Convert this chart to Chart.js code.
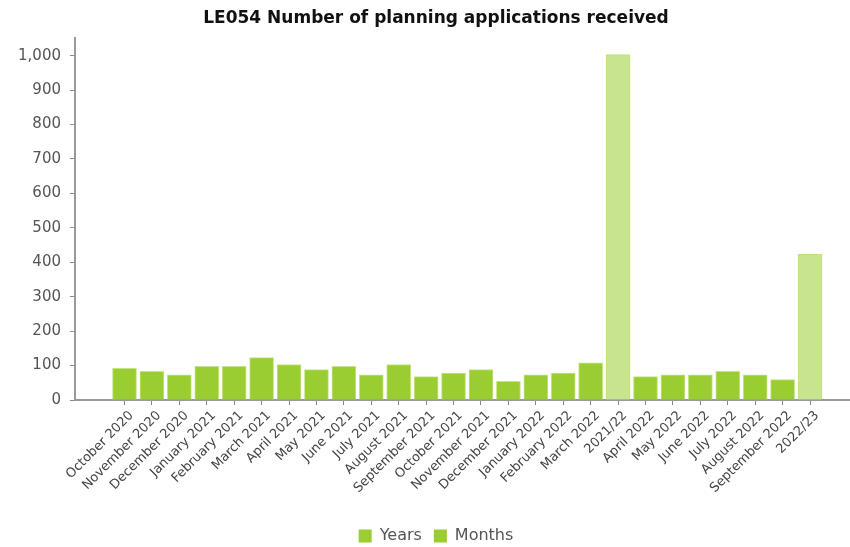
<!DOCTYPE html>
<html>
<head>
<meta charset="utf-8">
<script src="https://cdn.jsdelivr.net/npm/chart.js@4"></script>
<style>
  html, body { margin: 0; padding: 0; background: #fff; overflow: hidden; }
  #wrap { width: 872px; height: 547px; }
</style>
</head>
<body>
<div id="wrap"><canvas id="chart_le054"></canvas></div>
<script>
// categories along the x axis
var labels = [
  "October 2020", "November 2020", "December 2020", "January 2021", "February 2021",
  "March 2021", "April 2021", "May 2021", "June 2021", "July 2021", "August 2021",
  "September 2021", "October 2021", "November 2021", "December 2021", "January 2022",
  "February 2022", "March 2022", "2021/22", "April 2022", "May 2022", "June 2022",
  "July 2022", "August 2022", "September 2022", "2022/23"
];
// monthly counts (null where the category is a year)
var months = [
  92, 83, 73, 98, 98, 123, 103, 88, 98, 73, 103, 68, 78, 88, 54, 73, 78, 108,
  null, 68, 73, 73, 83, 73, 59, null
];
// yearly totals
var years = [
  null, null, null, null, null, null, null, null, null, null, null, null, null,
  null, null, null, null, null, 1003, null, null, null, null, null, null, 423
];
var yTicks = [0, 100, 200, 300, 400, 500, 600, 700, 800, 900, 1000];

var color_month = "#9acd32";
var color_year = "#c9e48f";
var font_fam = "'DejaVu Sans', Verdana, sans-serif";

function toPoints(arr) {
  return arr.map((v, i) => ({ x: i, y: v }));
}

const ctx = document.getElementById("chart_le054").getContext("2d");

const chart = new Chart(ctx, {
  type: "bar",
  data: {
    datasets: [
      {
        label: "Years",
        data: toPoints(years),
        backgroundColor: color_year,
        borderColor: "#bfdf7c",
        borderWidth: 1,
        barThickness: 24,
      },
      {
        label: "Months",
        data: toPoints(months),
        backgroundColor: color_month,
        borderColor: "#c4e585",
        borderWidth: 1,
        barThickness: 24,
      },
    ],
  },
  options: {
    responsive: true,
    maintainAspectRatio: false,
    animation: false,
    layout: { padding: { left: 0, right: 0, top: 4, bottom: -7 } },
    plugins: {
      title: {
        display: true,
        text: "LE054 Number of planning applications received",
        color: "#111",
        font: { family: font_fam, size: 17, weight: "bold" },
        padding: { top: 4, bottom: 10 },
      },
      legend: {
        position: "bottom",
        labels: {
          boxWidth: 13,
          boxHeight: 13,
          color: "#555",
          font: { family: font_fam, size: 16 },
          padding: 12,
          generateLabels: function (c) {
            var items = Chart.defaults.plugins.legend.labels.generateLabels(c);
            items.forEach((it) => {
              it.fillStyle = color_month;
              it.strokeStyle = color_month;
              it.lineWidth = 0;
            });
            return items;
          },
        },
      },
      tooltip: { enabled: false },
    },
    scales: {
      x: {
        type: "linear",
        stacked: true,
        offset: false,
        min: -1.805,
        max: 27.26,
        afterBuildTicks: function (s) {
          s.ticks = labels.map((_, i) => ({ value: i }));
        },
        afterFit: function (s) {
          s.paddingLeft = 0;
          s.paddingRight = 0;
          s.height = 116;
        },
        ticks: {
          autoSkip: false,
          minRotation: 45,
          maxRotation: 45,
          color: "#444",
          padding: 3,
          labelOffset: 7,
          font: { family: font_fam, size: 13 },
          callback: function (value) {
            return labels[value];
          },
        },
        grid: {
          offset: false,
          drawOnChartArea: false,
          drawTicks: true,
          tickLength: 5,
          color: "#888",
        },
        border: { display: true, color: "#999", width: 2 },
      },
      y: {
        min: 0,
        max: 1050,
        afterBuildTicks: function (s) {
          s.ticks = yTicks.map((v) => ({ value: v }));
        },
        afterFit: function (s) {
          s.width = 75;
        },
        ticks: {
          color: "#555",
          padding: 9,
          font: { family: font_fam, size: 15 },
        },
        grid: {
          drawOnChartArea: false,
          drawTicks: true,
          tickLength: 5,
          color: "#888",
        },
        border: { display: true, color: "#999", width: 2 },
      },
    },
  },
});
</script>
</body>
</html>
